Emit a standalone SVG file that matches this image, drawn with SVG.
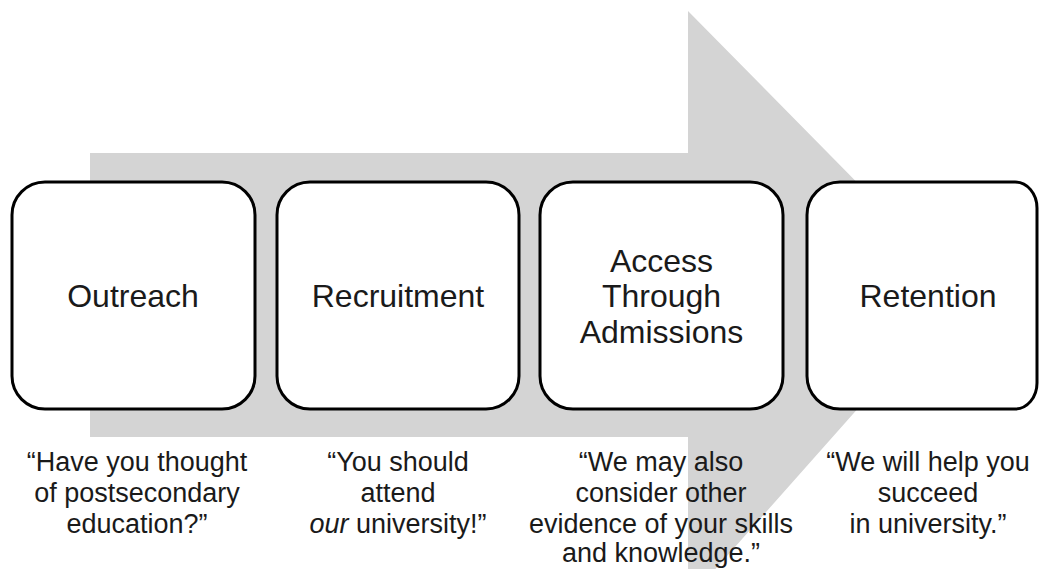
<svg xmlns="http://www.w3.org/2000/svg" width="1040" height="569" viewBox="0 0 1040 569">
<style>
.box{fill:#ffffff;stroke:#000000;stroke-width:3}
.lbl{font-family:"Liberation Sans",Arial,sans-serif;font-size:32px;fill:#1a1a1a;text-anchor:middle}
.cap{font-family:"Liberation Sans",Arial,sans-serif;font-size:27px;fill:#1a1a1a;text-anchor:middle}
.bg{fill:#d4d4d4}
</style>
<rect width="1040" height="569" fill="#ffffff"/>
<g id="arrow">
<polygon class="bg" points="90,153 688,153 688,11 963,290 688,600 688,437 90,437"/>
</g>
<g id="connectors"></g>
<g id="node-outreach">
<rect class="box" x="12" y="182" width="243" height="227" rx="33" ry="33"/>
<text class="lbl" x="133" y="307">Outreach</text>
</g>
<g id="node-recruitment">
<rect class="box" x="277" y="182" width="242" height="227" rx="33" ry="33"/>
<text class="lbl" x="398" y="307">Recruitment</text>
</g>
<g id="node-access">
<rect class="box" x="540" y="182" width="243" height="227" rx="33" ry="33"/>
<text class="lbl" x="661.5" y="272">Access</text>
<text class="lbl" x="661.5" y="307">Through</text>
<text class="lbl" x="661.5" y="343">Admissions</text>
</g>
<g id="node-retention">
<path class="box" d="M840 182 H1015 A22 26 0 0 1 1037 208 V383 A22 26 0 0 1 1015 409 H840 A33 33 0 0 1 807 376 V215 A33 33 0 0 1 840 182 Z"/>
<text class="lbl" x="928" y="307">Retention</text>
</g>
<g id="caption-outreach">
<text class="cap" x="137" y="471">“Have you thought</text>
<text class="cap" x="137" y="502">of postsecondary</text>
<text class="cap" x="137" y="533">education?”</text>
</g>
<g id="caption-recruitment">
<text class="cap" x="398" y="471">“You should</text>
<text class="cap" x="398" y="502">attend</text>
<text class="cap" x="398" y="533"><tspan font-style="italic">our</tspan> university!”</text>
</g>
<g id="caption-access">
<text class="cap" x="661" y="471">“We may also</text>
<text class="cap" x="661" y="502">consider other</text>
<text class="cap" x="661" y="533">evidence of your skills</text>
<text class="cap" x="661" y="562">and knowledge.”</text>
</g>
<g id="caption-retention">
<text class="cap" x="928" y="471">“We will help you</text>
<text class="cap" x="928" y="502">succeed</text>
<text class="cap" x="928" y="533">in university.”</text>
</g>
</svg>
